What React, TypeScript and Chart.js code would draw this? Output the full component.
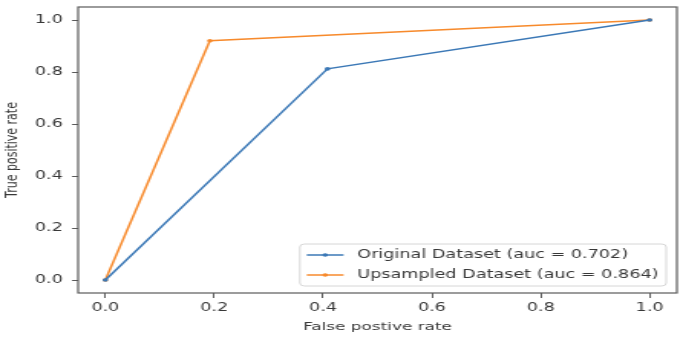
import React, { useEffect, useRef } from "react";
import { Chart, registerables } from "chart.js";

Chart.register(...registerables);

// ---- data ----
const fprOriginal = [0, 0.408, 1];
const tprOriginal = [0, 0.812, 1];
const fprUpsampled = [0, 0.192, 1];
const tprUpsampled = [0, 0.92, 1];
const labelOriginal = "Original Dataset (auc = 0.702)";
const labelUpsampled = "Upsampled Dataset (auc = 0.864)";
const xTicks = [0, 0.2, 0.4, 0.6, 0.8, 1.0];
const yTicks = [0, 0.2, 0.4, 0.6, 0.8, 1.0];
const xTitle = "False postive rate";
const yTitle = "True positive rate";

const BLUE = "#3b78b6";
const ORANGE = "#f78a2c";
const INNER_W = 446;
const OUTER_W = 683;
const H = 340;
const FONT = "DejaVu Sans";
const TEXT = "#383838";
const FRAME = "#5a5a5a";

const framePlugin = {
  id: "frame",
  afterDatasetsDraw(chart: any) {
    const { ctx, chartArea } = chart;
    ctx.save();
    ctx.strokeStyle = FRAME;
    ctx.lineWidth = 1.2;
    ctx.strokeRect(chartArea.left, chartArea.top, chartArea.right - chartArea.left, chartArea.bottom - chartArea.top);
    ctx.restore();
  },
};

const legendPlugin = {
  id: "insideLegend",
  afterDraw(chart: any) {
    const { ctx, chartArea } = chart;
    const ds = chart.data.datasets;
    ctx.save();
    ctx.font = `11.5px "${FONT}"`;
    const textW = Math.max(...ds.map((d: any) => ctx.measureText(d.label).width));
    const padL = 4.5, handleLen = 24, gap = 9, padR = 5, rowH = 20, padV = 11;
    const boxW = padL + handleLen + gap + textW + padR;
    const boxH = padV * 2 + rowH * (ds.length - 1);
    const right = chartArea.right - 7;
    const bottom = chartArea.bottom - 7;
    const left = right - boxW;
    const top = bottom - boxH;
    ctx.beginPath();
    (ctx as any).roundRect(left, top, boxW, boxH, 3);
    ctx.fillStyle = "rgba(255,255,255,0.85)";
    ctx.fill();
    ctx.strokeStyle = "#d6d6d6";
    ctx.lineWidth = 1;
    ctx.stroke();
    ds.forEach((d: any, i: number) => {
      const y = top + padV + i * rowH;
      const x0 = left + padL;
      ctx.strokeStyle = d.borderColor;
      ctx.lineWidth = 1.5;
      ctx.beginPath();
      ctx.moveTo(x0, y);
      ctx.lineTo(x0 + handleLen, y);
      ctx.stroke();
      ctx.fillStyle = d.borderColor;
      ctx.beginPath();
      ctx.arc(x0 + handleLen / 2, y, 1.8, 0, Math.PI * 2);
      ctx.fill();
      ctx.fillStyle = TEXT;
      ctx.textBaseline = "middle";
      ctx.textAlign = "left";
      ctx.fillText(d.label, x0 + handleLen + gap, y + 0.5);
    });
    ctx.restore();
  },
};

export default function App() {
  const ref = useRef<HTMLCanvasElement | null>(null);
  useEffect(() => {
    if (!ref.current) return;
    const toPts = (xs: number[], ys: number[]) => xs.map((x, i) => ({ x, y: ys[i] }));
    const chart = new Chart(ref.current, {
      type: "scatter",
      data: {
        datasets: [
          {
            label: labelOriginal,
            data: toPts(fprOriginal, tprOriginal),
            showLine: true,
            borderColor: BLUE,
            backgroundColor: BLUE,
            borderWidth: 1.5,
            pointRadius: 1.8,
            pointBorderWidth: 0,
            tension: 0,
          },
          {
            label: labelUpsampled,
            data: toPts(fprUpsampled, tprUpsampled),
            showLine: true,
            borderColor: ORANGE,
            backgroundColor: ORANGE,
            borderWidth: 1.5,
            pointRadius: 1.8,
            pointBorderWidth: 0,
            tension: 0,
          },
        ],
      },
      options: {
        responsive: false,
        animation: false,
        devicePixelRatio: 1,
        layout: { padding: { top: 7, right: 0.7, left: 0, bottom: 0 } },
        plugins: { legend: { display: false }, tooltip: { enabled: false } },
        scales: {
          x: {
            type: "linear",
            min: -0.05,
            max: 1.05,
            afterFit: (s: any) => { s.height = 47; s.paddingLeft = 0; s.paddingRight = 0; },
            afterBuildTicks: (s: any) => { s.ticks = xTicks.map((v) => ({ value: v })); },
            border: { display: false },
            grid: { drawOnChartArea: false, drawTicks: true, tickLength: 5, tickColor: FRAME, tickWidth: 1 },
            ticks: {
              padding: 3,
              color: TEXT,
              font: { family: FONT, size: 11.5 },
              maxRotation: 0,
              callback: (v: any) => Number(v).toFixed(1),
            },
            title: {
              display: true,
              text: xTitle,
              color: TEXT,
              font: { family: FONT, size: 11 },
              padding: { top: 0, bottom: 6.5 },
            },
          },
          y: {
            type: "linear",
            min: -0.05,
            max: 1.05,
            afterFit: (s: any) => { s.width = 51; s.paddingTop = 0; s.paddingBottom = 0; },
            afterBuildTicks: (s: any) => { s.ticks = yTicks.map((v) => ({ value: v })); },
            border: { display: false },
            grid: { drawOnChartArea: false, drawTicks: true, tickLength: 4, tickColor: FRAME, tickWidth: 1 },
            ticks: {
              padding: 6,
              color: TEXT,
              font: { family: FONT, size: 11.5 },
              callback: (v: any) => Number(v).toFixed(1),
            },
            title: {
              display: true,
              text: yTitle,
              color: TEXT,
              font: { family: FONT, size: 11 },
              padding: { top: 1.6, bottom: 0 },
            },
          },
        },
      },
      plugins: [framePlugin, legendPlugin],
    } as any);
    return () => chart.destroy();
  }, []);

  return (
    <div
      style={{
        position: "fixed",
        left: 0,
        top: 0,
        width: OUTER_W,
        height: H,
        overflow: "hidden",
        background: "#fff",
      }}
    >
      <div style={{ width: INNER_W, height: H, transform: `scaleX(${OUTER_W / INNER_W})`, transformOrigin: "0 0" }}>
        <canvas ref={ref} width={INNER_W} height={H} style={{ width: INNER_W, height: H, display: "block" }} />
      </div>
    </div>
  );
}
